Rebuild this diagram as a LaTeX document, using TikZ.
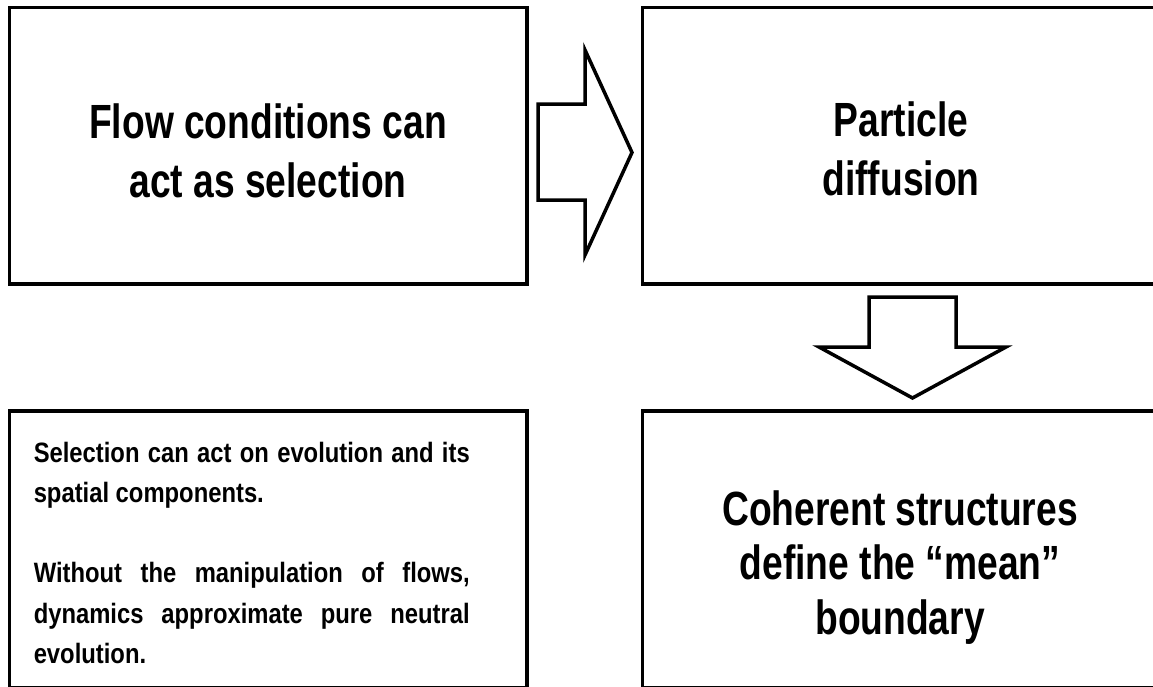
\documentclass[tikz,border=0pt]{standalone}
\usepackage{fontspec}
\newfontfamily\bigfont{Liberation Sans}[FakeStretch=0.775]
\newfontfamily\smallfont{Liberation Sans}[FakeStretch=0.85]
\newcommand{\justifyme}{\hyphenpenalty=10000\exhyphenpenalty=10000\tolerance=10000\parindent=0pt\leftskip=0pt\rightskip=0pt\parfillskip=0pt plus 1fil\relax}
\begin{document}
\begin{tikzpicture}[x=1pt,y=-1pt,line width=3.5pt,line join=miter,
  box/.style={draw,inner sep=0pt,minimum width=517.5pt,minimum height=276.5pt},
  bigtext/.style={font=\bigfont\bfseries\fontsize{48}{59}\selectfont,align=center,inner sep=0pt},
  smalltext/.style={font=\smallfont\bfseries\fontsize{28}{40.3}\selectfont,inner sep=0pt},
  blockarrow/.style={draw,fill=white}]
\useasboundingbox (0,0) rectangle (1153,686);
\clip (0,0) rectangle (1153,686);
\node[box] (tl) at (268.25,145.75) {};
\node[box] (tr) at (901,145.75) {};
\node[box] (bl) at (268.25,549) {};
\node[box] (br) at (901,549) {};
\draw[blockarrow] (538,104) -- (585,104) -- (585,50) -- (632,152.5) -- (585,255) -- (585,200) -- (538,200) -- cycle;
\draw[blockarrow] (869,297) -- (956,297) -- (956,347) -- (1006,347) -- (912.5,398) -- (819,347) -- (869,347) -- cycle;
\node[bigtext,anchor=base] (tlt) at (268,197) {Flow conditions can\\act as selection};
\node[bigtext,anchor=base] (trt) at (901,195) {Particle\\diffusion};
\node[bigtext,anchor=base,font=\bigfont\bfseries\fontsize{48}{54.5}\selectfont] (brt) at (900,634) {Coherent structures\\define the “mean”\\boundary};
\node[smalltext,anchor=base west] (blt) at (32,462) {\begin{minipage}[t]{436pt}\smallfont\bfseries\fontsize{28}{40.3}\selectfont\justifyme
Selection can act on evolution and its spatial components.\par\vspace{40.3pt}
Without the manipulation of flows, dynamics approximate pure neutral evolution.\par\end{minipage}};
\end{tikzpicture}
\end{document}
